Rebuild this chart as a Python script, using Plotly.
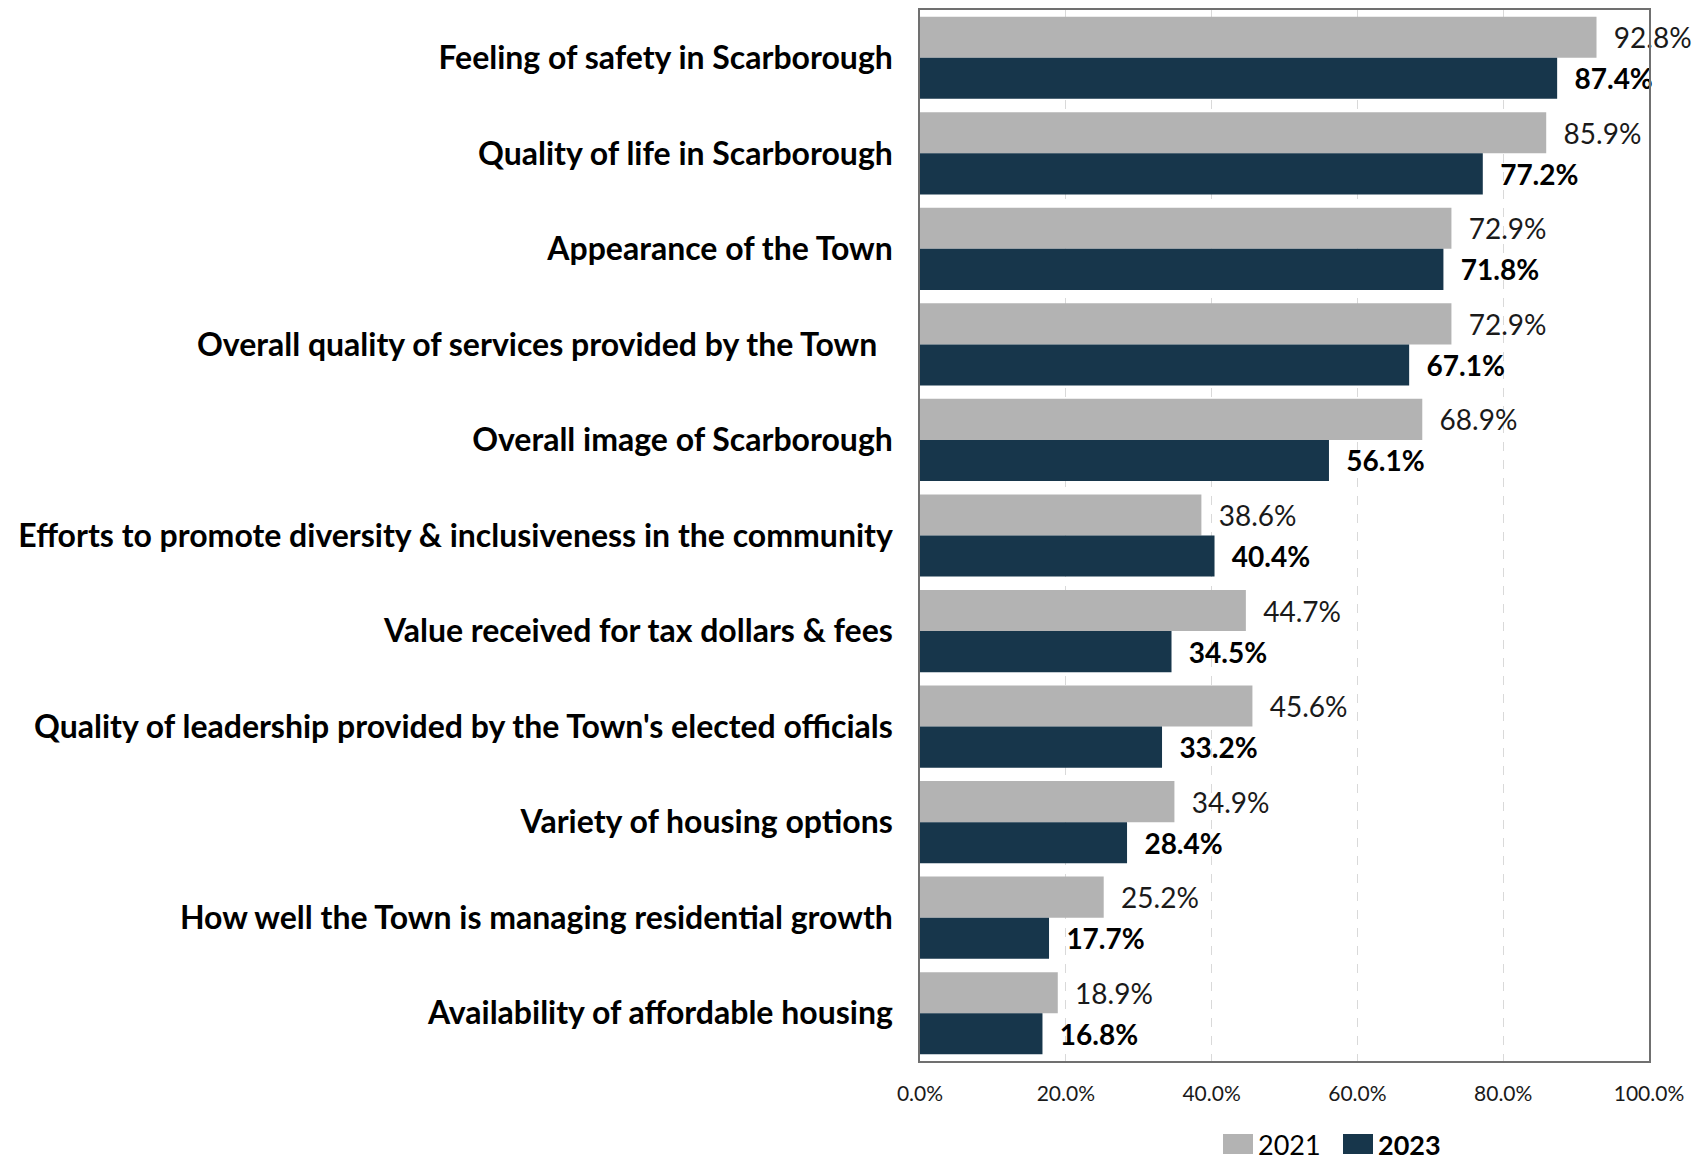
import plotly.graph_objects as go

categories = [
    "Feeling of safety in Scarborough",
    "Quality of life in Scarborough",
    "Appearance of the Town",
    "Overall quality of services provided by the Town ",
    "Overall image of Scarborough",
    "Efforts to promote diversity & inclusiveness in the community",
    "Value received for tax dollars & fees",
    "Quality of leadership provided by the Town's elected officials",
    "Variety of housing options",
    "How well the Town is managing residential growth",
    "Availability of affordable housing",
]
values_2021 = [92.8, 85.9, 72.9, 72.9, 68.9, 38.6, 44.7, 45.6, 34.9, 25.2, 18.9]
values_2023 = [87.4, 77.2, 71.8, 67.1, 56.1, 40.4, 34.5, 33.2, 28.4, 17.7, 16.8]
series_names = ["2021", "2023"]
x_ticks = [0, 20, 40, 60, 80, 100]
x_tick_labels = ["0.0%", "20.0%", "40.0%", "60.0%", "80.0%", "100.0%"]

FONT = "Lato"
C2021 = "#b3b3b3"
C2023 = "#17364b"
NB = "\u00a0\u00a0"

fig = go.Figure()
fig.add_trace(go.Bar(
    y=categories, x=values_2021, orientation="h", name=series_names[0],
    marker=dict(color=C2021, line=dict(width=0)),
    text=[f"{NB}{v:.1f}%" for v in values_2021], textposition="outside",
    textfont=dict(family=FONT, size=28, color="#1a1a1a"),
    constraintext="none", cliponaxis=False, showlegend=False,
))
fig.add_trace(go.Bar(
    y=categories, x=values_2023, orientation="h", name=series_names[1],
    marker=dict(color=C2023, line=dict(width=0)),
    text=[f"{NB}<b>{v:.1f}%</b>" for v in values_2023], textposition="outside",
    textfont=dict(family=FONT, size=28, color="#000000"),
    constraintext="none", cliponaxis=False, showlegend=False,
))

# Figure is offset 8px by the page body margin; sizes account for that.
W, H = 1695, 1153
ML, MR, MT, MB = 912, 54, 2, 100
plot_w = W - ML - MR
plot_h = H - MT - MB


def px_to_paper_x(px):
    return (px - ML) / plot_w


def px_to_paper_y(py):
    return (H - MB - py) / plot_h


# Manual legend (large square swatches like the original)
legend_items = [
    (series_names[0], C2021, 1215, False),
    (series_names[1], C2023, 1335, True),
]
shapes = []
annotations = []
for name, col, x0, bold in legend_items:
    shapes.append(dict(
        type="rect", xref="paper", yref="paper",
        x0=px_to_paper_x(x0), x1=px_to_paper_x(x0 + 30),
        y0=px_to_paper_y(1126), y1=px_to_paper_y(1146),
        fillcolor=col, line=dict(width=0), layer="above",
    ))
    annotations.append(dict(
        xref="paper", yref="paper", x=px_to_paper_x(x0 + 33), y=px_to_paper_y(1136),
        xanchor="left", yanchor="middle", showarrow=False,
        text=f"<b>{name}</b>" if bold else name,
        font=dict(family=FONT, size=27, color="#000000"),
    ))

fig.update_layout(
    width=W, height=H,
    paper_bgcolor="white", plot_bgcolor="white",
    margin=dict(l=ML, r=MR, t=MT, b=MB, autoexpand=False),
    barmode="group", bargap=0.14, bargroupgap=0,
    font=dict(family=FONT, color="#000000"),
    showlegend=False,
    shapes=shapes, annotations=annotations,
)
fig.update_xaxes(
    range=[0, 100], tickvals=x_ticks, ticktext=x_tick_labels,
    showgrid=True, gridcolor="#d9d9d9", griddash="dash", gridwidth=1,
    showline=True, linecolor="#707070", linewidth=1.5, mirror=True,
    zeroline=False, ticks="", ticklabelstandoff=13,
    tickfont=dict(family=FONT, size=21, color="#1a1a1a"),
)
fig.update_yaxes(
    categoryorder="array", categoryarray=categories, autorange="reversed",
    tickvals=categories, ticktext=[f"<b>{c}</b>".replace(" </b>", "\u00a0\u00a0</b>") for c in categories],
    showgrid=False, showline=True, linecolor="#707070", linewidth=1.5, mirror=True,
    ticks="", ticklabelstandoff=19,
    tickfont=dict(family=FONT, size=32, color="#000000"),
)

fig.write_html("out.html")
